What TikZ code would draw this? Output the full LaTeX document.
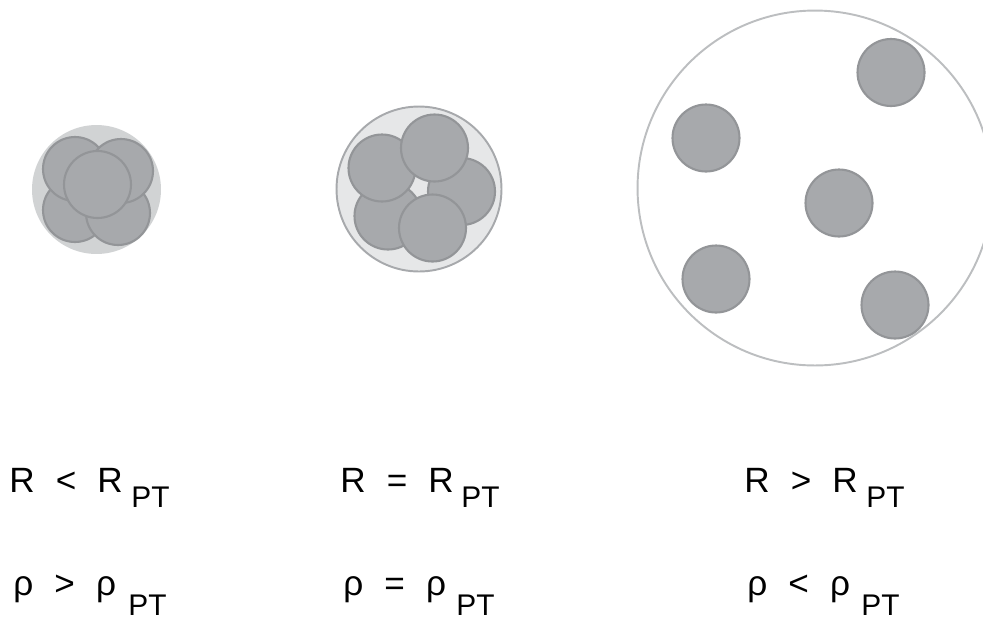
\documentclass[tikz,border=0pt]{standalone}
\usepackage{fontspec,xcolor}
\setmainfont{Liberation Sans}
\usetikzlibrary{positioning}
\definecolor{grainfill}{HTML}{A7A9AC}
\definecolor{grainline}{HTML}{939598}
\definecolor{haloA}{HTML}{D1D3D4}
\definecolor{haloB}{HTML}{E6E7E8}
\definecolor{haloline}{HTML}{A7A9AC}
\definecolor{shellline}{HTML}{BCBEC0}
\tikzset{
  grain/.style={circle,draw=grainline,fill=grainfill,line width=1.2pt,inner sep=0pt,minimum size=1.34cm},
  sgrain/.style={grain,minimum size=1.28cm},
  halo/.style={circle,inner sep=0pt,line width=1.1pt},
  lbl/.style={font=\fontsize{20}{24}\selectfont,inner sep=0pt,anchor=base west},
  sublbl/.style={font=\fontsize{17}{20}\selectfont,inner sep=0pt,anchor=base west}
}
\newcommand{\gap}{\hspace{0.6em}}
\begin{document}
\begin{tikzpicture}[x=0.02cm,y=-0.02cm]
  \useasboundingbox (0,0) rectangle (983,620);
  % Compact cluster, R < R_PT
  \node[halo,fill=haloA,minimum size=2.58cm] (h1) at (96.5,189.5) {};
  \node[sgrain] (a3) at (75,210) {};
  \node[sgrain] (a4) at (118,213) {};
  \node[sgrain] (a1) at (75,169) {};
  \node[sgrain] (a2) at (121,171) {};
  \node[grain] (a5) at (97.5,184.5) {};

  % Cluster at the transition, R = R_PT
  \node[halo,fill=haloB,draw=haloline,minimum size=3.3cm] (h2) at (419,189) {};
  \node[grain] (b4) at (388,216) {};
  \node[grain] (b3) at (461.5,191.5) {};
  \node[grain] (b1) at (382,168) {};
  \node[grain] (b2) at (434.5,148) {};
  \node[grain] (b5) at (432.5,228) {};

  % Dilute cluster, R > R_PT
  \node[halo,draw=shellline,minimum size=7.1cm] (h3) at (815,188) {};
  \node[grain] (c1) at (891,72.5) {};
  \node[grain] (c2) at (706,138) {};
  \node[grain] (c3) at (839,203) {};
  \node[grain] (c4) at (716,279) {};
  \node[grain] (c5) at (895,305) {};

  % Radius labels
  \node[lbl] (r1) at (9,492) {R\gap<\gap R};
  \node[sublbl] (r1s) at (131,507) {PT};
  \node[lbl] (r2) at (340,492) {R\gap=\gap R};
  \node[sublbl] (r2s) at (461,507) {PT};
  \node[lbl] (r3) at (744,492) {R\gap>\gap R};
  \node[sublbl] (r3s) at (866,507) {PT};

  % Density labels
  \node[lbl] (d1) at (13,595) {ρ\gap>\gap ρ};
  \node[sublbl] (d1s) at (128,615) {PT};
  \node[lbl] (d2) at (343,595) {ρ\gap=\gap ρ};
  \node[sublbl] (d2s) at (456,615) {PT};
  \node[lbl] (d3) at (747,595) {ρ\gap<\gap ρ};
  \node[sublbl] (d3s) at (861,615) {PT};
\end{tikzpicture}
\end{document}
